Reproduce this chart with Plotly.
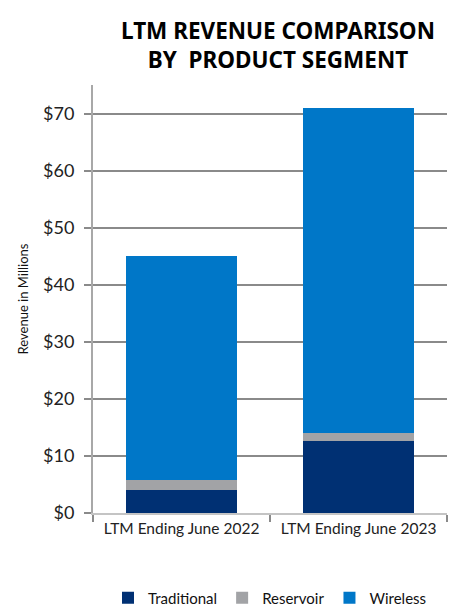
import plotly.graph_objects as go

categories = ["LTM Ending June 2022", "LTM Ending June 2023"]
traditional = [4.0, 12.55]
reservoir = [1.7, 1.45]
wireless = [39.3, 57.05]
series_names = ["Traditional", "Reservoir", "Wireless"]
series_colors = ["#003073", "#a2a3a6", "#0077c8"]
tick_vals = [0, 10, 20, 30, 40, 50, 60, 70]
tick_text = ["$0", "$10", "$20", "$30", "$40", "$50", "$60", "$70"]

fig = go.Figure()
for name, vals, col in zip(series_names, [traditional, reservoir, wireless], series_colors):
    fig.add_trace(go.Bar(x=categories, y=vals, name=name, marker=dict(color=col, line=dict(width=0)),
                         width=0.625))

font_family = "Lato, 'Open Sans', sans-serif"
fig.update_layout(
    barmode="stack",
    width=458, height=608,
    margin=dict(l=93, r=11, t=85, b=95, autoexpand=False),
    paper_bgcolor="white", plot_bgcolor="white",
    font=dict(family=font_family, color="#222222"),
    showlegend=True,
    legend=dict(orientation="h", x=0.5, xanchor="center", y=-0.16, yanchor="top",
                font=dict(size=15, color="#111111"), traceorder="normal",
                itemwidth=30),
    bargap=0.375,
)
fig.add_annotation(text="<b>LTM REVENUE COMPARISON<br>BY  PRODUCT SEGMENT</b>",
                   xref="paper", yref="paper", x=0.523, xanchor="center",
                   y=1 + (85 - 13) / 428, yanchor="top", showarrow=False, align="center",
                   font=dict(size=22.5, color="#000000", family="'Noto Sans', Lato, sans-serif"))
fig.update_yaxes(range=[0, 75], tickvals=tick_vals, ticktext=tick_text,
                 showgrid=True, gridcolor="#8a8a8a", gridwidth=2,
                 showline=True, linecolor="#a8a8a8", linewidth=2,
                 ticks="outside", ticklen=7, tickcolor="#8a8a8a", tickwidth=2,
                 tickfont=dict(size=18, color="#222222"), automargin=False,
                 ticklabelstandoff=6,
                 title=dict(text="Revenue in Millions", font=dict(size=13, color="#111111"), standoff=12),
                 zeroline=False, layer="below traces")
fig.update_xaxes(showline=True, linecolor="#c4c4c4", linewidth=2, automargin=False,
                 ticks="outside", tickson="boundaries", ticklen=7, tickcolor="#8a8a8a", tickwidth=2,
                 tickfont=dict(size=15.5, color="#222222"))

fig.write_html("out.html", config={"displayModeBar": False},
               post_script="document.body.style.margin='0';document.body.style.overflow='hidden';")
